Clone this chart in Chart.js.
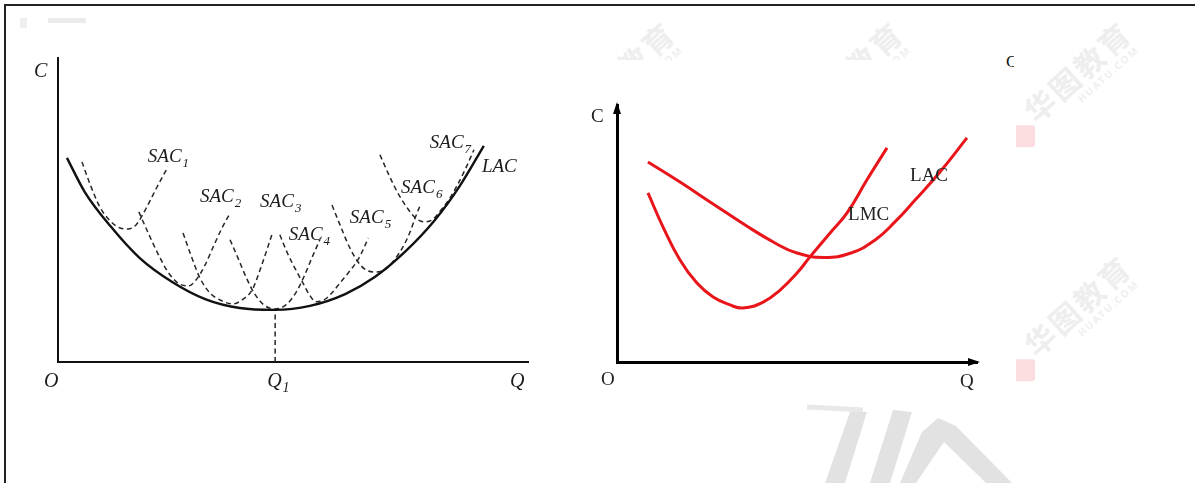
<!DOCTYPE html>
<html>
<head>
<meta charset="utf-8">
<script src="https://cdn.jsdelivr.net/npm/chart.js@4.4.1/dist/chart.umd.min.js"></script>
<style>
  body { margin: 0; background: #fff; }
  #page { position: relative; width: 1195px; height: 483px; overflow: hidden; background: #fff; }
  .frame { position: absolute; left: 4px; top: 4px; width: 1300px; height: 600px; border-top: 2px solid #222; border-left: 2px solid #222; }
  .clip { position: absolute; overflow: hidden; }
  .wm { position: absolute; width: 160px; height: 60px; transform: rotate(-42deg); }
  .wm b { position: absolute; left: 14px; top: 8px; font: 700 30px "Noto Sans CJK SC"; letter-spacing: 3px; color: #eeeeee; white-space: nowrap; }
  .wm i { position: absolute; left: 62px; top: 46px; font: 700 10px "Noto Sans"; font-style: normal; letter-spacing: 2px; color: #efefef; white-space: nowrap; }
  .wm s { position: absolute; left: -14px; top: 32px; width: 22px; height: 22px; background: #fbdde0; transform: rotate(42deg); border-radius: 3px; }
  .ink { position: absolute; background: #e2e2e2; }
  canvas { position: absolute; top: 0; }
</style>
</head>
<body>
<div id="page">
  <div class="frame"></div>
  <div class="clip" id="wmRight" style="left:1016px;top:6px;width:179px;height:477px"></div>
  <div class="clip" id="wmTop" style="left:600px;top:6px;width:416px;height:54px"></div>
  <div class="ink" style="left:20px;top:18px;width:7px;height:10px;background:#efefef"></div>
  <div class="ink" style="left:48px;top:18px;width:38px;height:5px;background:#ebebeb"></div>
  <div class="clip" style="left:1004px;top:52px;width:10px;height:22px">
    <span style="position:absolute;left:2px;top:0;font:17px 'Liberation Serif';color:#111">C</span>
  </div>
  <div class="ink" style="left:807px;top:406px;width:56px;height:5px;background:#e8e8e8;transform:rotate(3deg)"></div>
  <div class="ink" style="left:790px;top:400px;width:230px;height:83px;clip-path:polygon(60px 12px,77px 12px,55px 83px,35px 83px)"></div>
  <div class="ink" style="left:790px;top:400px;width:230px;height:83px;clip-path:polygon(103px 10px,122px 12px,100px 83px,80px 83px)"></div>
  <div class="ink" style="left:790px;top:400px;width:230px;height:83px;clip-path:polygon(132px 32px,148px 18px,166px 26px,222px 83px,196px 83px,154px 42px,126px 83px,110px 83px)"></div>
  <canvas id="left" width="560" height="400" style="left:0"></canvas>
  <canvas id="right" width="635" height="400" style="left:560px"></canvas>
</div>
<script>
// left figure: long-run average cost as the envelope of seven SAC curves
// (Q on the x axis, C on the y axis, both in chart units)
const lac = [[0.19, 6.58], [0.57, 5.48], [1.11, 4.39], [1.74, 3.35], [2.43, 2.58], [3.13, 2.03],
  [3.87, 1.74], [4.62, 1.68], [5.36, 1.81], [6.11, 2.19], [6.74, 2.74], [7.38, 3.55],
  [8.02, 4.58], [8.55, 5.68], [9.06, 6.97]];
const sac1 = [[0.51, 6.45], [0.68, 5.74], [0.89, 5.0], [1.11, 4.55], [1.32, 4.32], [1.49, 4.29],
  [1.66, 4.42], [1.87, 4.94], [2.11, 5.65], [2.34, 6.29]];
const sac2 = [[1.72, 4.84], [1.91, 4.19], [2.13, 3.48], [2.34, 2.90], [2.55, 2.55], [2.77, 2.45],
  [2.94, 2.65], [3.13, 3.13], [3.32, 3.77], [3.49, 4.32], [3.64, 4.74]];
const sac3 = [[2.66, 4.16], [2.85, 3.35], [3.02, 2.71], [3.23, 2.23], [3.49, 1.97], [3.72, 1.87],
  [3.94, 2.03], [4.13, 2.32], [4.30, 2.97], [4.43, 3.55], [4.55, 4.10]];
const sac4 = [[3.66, 3.94], [3.83, 3.35], [4.0, 2.74], [4.17, 2.23], [4.38, 1.84], [4.62, 1.71],
  [4.85, 1.84], [5.06, 2.23], [5.23, 2.74], [5.40, 3.35], [5.57, 3.94]];
const sac5 = [[4.72, 4.10], [4.89, 3.48], [5.06, 2.97], [5.21, 2.55], [5.34, 2.19], [5.49, 1.94],
  [5.66, 2.0], [5.83, 2.23], [6.0, 2.55], [6.19, 2.90], [6.38, 3.29], [6.51, 3.68], [6.60, 4.0]];
const sac6 = [[5.83, 5.06], [6.0, 4.42], [6.19, 3.74], [6.38, 3.23], [6.55, 2.97], [6.77, 2.90],
  [6.98, 3.0], [7.17, 3.32], [7.34, 3.71], [7.49, 4.19], [7.60, 4.65], [7.70, 5.03]];
const sac7 = [[6.85, 6.68], [7.04, 6.03], [7.23, 5.45], [7.43, 4.97], [7.60, 4.65], [7.79, 4.52],
  [7.96, 4.58], [8.15, 4.90], [8.34, 5.29], [8.51, 5.74], [8.68, 6.26], [8.85, 6.84]];
const sacCurves = [sac1, sac2, sac3, sac4, sac5, sac6, sac7];
const sacTags = ['1', '2', '3', '4', '5', '6', '7'];
const sacTagAt = [[1.91, 6.45], [3.02, 5.16], [4.30, 5.0], [4.91, 3.94], [6.21, 4.48], [7.30, 5.45], [7.91, 6.90]];

// right figure: LAC and LMC
const lac2 = [[0.86, 7.78], [1.75, 7.00], [2.67, 6.15], [3.56, 5.33], [4.39, 4.63], [5.0, 4.24],
  [5.75, 4.07], [6.5, 4.24], [7.17, 4.75], [7.72, 5.45], [8.28, 6.30],
  [8.97, 7.39], [9.72, 8.72]];
const lmc2 = [[0.86, 6.58], [1.28, 5.25], [1.75, 3.97], [2.22, 3.07], [2.67, 2.53], [3.14, 2.22],
  [3.50, 2.10], [4.06, 2.33], [4.53, 2.80], [5.0, 3.46], [5.36, 4.09], [5.92, 5.02],
  [6.39, 5.80], [6.94, 7.08], [7.50, 8.33]];

const pts = arr => arr.map(([x, y]) => ({x, y}));
const lacMin = lac.reduce((m, p) => (p[1] < m[1] ? p : m));
const q1 = lacMin[0];

function italic(ctx, txt, tag, x, y, size) {
    ctx.font = 'italic ' + size + 'px "Liberation Serif"';
    ctx.fillText(txt, x, y);
    if (tag) {
        const w = ctx.measureText(txt).width;
        ctx.font = 'italic ' + Math.round(size * 0.68) + 'px "Liberation Serif"';
        ctx.fillText(tag, x + w + 1, y + size * 0.27);
    }
}

const leftText = {
    id: 'leftText',
    afterDraw(chart) {
        const {ctx, chartArea: a, scales: {x, y}} = chart;
        ctx.save();
        ctx.fillStyle = '#1c1c1c';
        italic(ctx, 'C', '', a.left - 24, a.top + 19, 20);
        italic(ctx, 'O', '', a.left - 14, a.bottom + 25, 20);
        italic(ctx, 'Q', '', a.right - 18, a.bottom + 25, 20);
        italic(ctx, 'Q', '1', x.getPixelForValue(q1) - 8, a.bottom + 25, 20);
        italic(ctx, 'LAC', '', x.getPixelForValue(9.02), y.getPixelForValue(6.13), 19);
        sacTags.forEach((t, i) => {
            italic(ctx, 'SAC', t, x.getPixelForValue(sacTagAt[i][0]), y.getPixelForValue(sacTagAt[i][1]), 19);
        });
        ctx.restore();
    }
};

const rightText = {
    id: 'rightText',
    afterDraw(chart) {
        const {ctx, chartArea: a, scales: {x, y}} = chart;
        ctx.save();
        ctx.fillStyle = '#000';
        // arrow heads
        ctx.beginPath();
        ctx.moveTo(a.left, a.top - 3);
        ctx.lineTo(a.left - 4, a.top + 9);
        ctx.lineTo(a.left + 4, a.top + 9);
        ctx.fill();
        ctx.beginPath();
        ctx.moveTo(a.right + 3, a.bottom);
        ctx.lineTo(a.right - 9, a.bottom - 4);
        ctx.lineTo(a.right - 9, a.bottom + 4);
        ctx.fill();
        ctx.fillStyle = '#222';
        ctx.font = '19px "Liberation Serif"';
        ctx.fillText('C', a.left - 26, a.top + 17);
        ctx.fillText('O', a.left - 16, a.bottom + 23);
        ctx.fillText('Q', a.right - 17, a.bottom + 25);
        ctx.fillText('LMC', x.getPixelForValue(6.42), y.getPixelForValue(5.53));
        ctx.fillText('LAC', x.getPixelForValue(8.14), y.getPixelForValue(7.04));
        ctx.restore();
    }
};

function axis(max, color, width) {
    return {
        type: 'linear', min: 0, max: max,
        ticks: {display: false},
        grid: {display: false, drawTicks: false},
        border: {display: true, color: color, width: width}
    };
}

const baseOpts = (pad, ymax, color, width) => ({
    responsive: false,
    animation: false,
    events: [],
    layout: {autoPadding: false, padding: pad},
    plugins: {legend: {display: false}, tooltip: {enabled: false}},
    elements: {point: {radius: 0}, line: {fill: false}},
    scales: {x: axis(10, color, width), y: axis(ymax, color, width)}
});

document.addEventListener('DOMContentLoaded', function() {
    // Left figure
    const leftSets = [{
        data: pts(lac), borderColor: '#111', borderWidth: 2.4, cubicInterpolationMode: 'monotone'
    }].concat(sacCurves.map(c => ({
        data: pts(c), borderColor: '#262626', borderWidth: 1.5, borderDash: [5, 3.5],
        cubicInterpolationMode: 'monotone'
    }))).concat([{
        data: [{x: q1, y: 0}, {x: q1, y: lacMin[1]}],
        borderColor: '#262626', borderWidth: 1.5, borderDash: [5, 3.5]
    }]);
    new Chart(document.getElementById('left'), {
        type: 'line',
        data: {datasets: leftSets},
        options: baseOpts({left: 58, right: 32, top: 58, bottom: 38}, 9.8, '#111', 2),
        plugins: [leftText]
    });

    // Right figure
    new Chart(document.getElementById('right'), {
        type: 'line',
        data: {
            datasets: [
                {data: pts(lac2), borderColor: '#e8151b', borderWidth: 3, tension: 0.45},
                {data: pts(lmc2), borderColor: '#e8151b', borderWidth: 3, tension: 0.45}
            ]
        },
        options: baseOpts({left: 57, right: 218, top: 105, bottom: 38}, 10, '#000', 3),
        plugins: [rightText]
    });

    // faint site watermarks that show around the picture
    function mark(box, cx, cy, ox, oy) {
        const m = document.createElement('div');
        m.className = 'wm';
        m.style.left = (cx - 80 - ox) + 'px';
        m.style.top = (cy - 30 - oy) + 'px';
        m.innerHTML = '<s></s><b>华图教育</b><i>HUATU.COM</i>';
        box.appendChild(m);
    }
    const r = document.getElementById('wmRight');
    mark(r, 1077, 71, 1016, 6);
    mark(r, 1077, 305, 1016, 6);
    const t = document.getElementById('wmTop');
    mark(t, 621, 71, 600, 6);
    mark(t, 849, 71, 600, 6);
});
</script>
</body>
</html>
